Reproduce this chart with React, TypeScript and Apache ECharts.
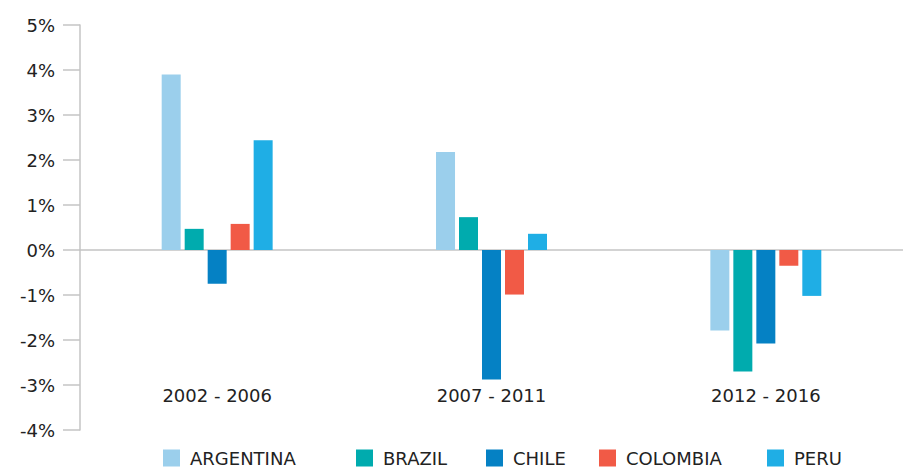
import React, { useEffect, useRef } from "react";
import * as echarts from "echarts";

const categories = ["2002 - 2006", "2007 - 2011", "2012 - 2016"];
const countries = ["ARGENTINA", "BRAZIL", "CHILE", "COLOMBIA", "PERU"];
const argentina = [3.9, 2.18, -1.79];
const brazil = [0.47, 0.73, -2.7];
const chile = [-0.75, -2.88, -2.08];
const colombia = [0.58, -0.99, -0.35];
const peru = [2.44, 0.36, -1.02];
const seriesValues = [argentina, brazil, chile, colombia, peru];
const colors = ["#9BCFEC", "#00ABAE", "#0581C4", "#F15A46", "#1FAEE5"];
const legendLeft = [163, 356, 486, 599, 767];

export default function App() {
  const ref = useRef<HTMLDivElement>(null);
  useEffect(() => {
    document.body.style.margin = "0";
    if (!ref.current) return;
    const chart = echarts.init(ref.current, null, { renderer: "svg" });
    const font = "DejaVu Sans";
    chart.setOption({
      animation: false,
      textStyle: { fontFamily: font },
      grid: {
        left: 80,
        right: 0,
        top: 25,
        bottom: 37,
        containLabel: false,
        outerBoundsMode: "none",
      },
      legend: countries.map((c, i) => ({
        data: [c],
        left: legendLeft[i],
        top: 449,
        itemWidth: 17,
        itemHeight: 17,
        icon: "rect",
        padding: 0,
        textStyle: {
          fontFamily: font,
          fontSize: 18,
          color: "#222",
          padding: [0, 0, 0, 5],
        },
      })),
      xAxis: [
        {
          type: "category",
          data: categories,
          axisLine: { onZero: true, lineStyle: { color: "#c4c4c4", width: 1.5 } },
          axisTick: { show: false },
          axisLabel: { show: false },
          splitLine: { show: false },
        },
        {
          type: "category",
          data: categories,
          position: "bottom",
          offset: -52,
          axisLine: { show: false, onZero: false },
          axisTick: { show: false },
          axisLabel: { margin: 8, fontSize: 18, color: "#222", fontFamily: font },
          splitLine: { show: false },
        },
      ],
      yAxis: {
        type: "value",
        min: -4,
        max: 5,
        interval: 1,
        axisLine: { show: true, lineStyle: { color: "#c4c4c4", width: 1.5 } },
        axisTick: { show: true, length: 17, lineStyle: { color: "#c4c4c4", width: 1.5 } },
        axisLabel: {
          formatter: "{value}%",
          margin: 25,
          fontSize: 18,
          color: "#222",
          fontFamily: font,
        },
        splitLine: { show: false },
      },
      series: countries.map((c, i) => ({
        name: c,
        type: "bar",
        xAxisIndex: 0,
        data: seriesValues[i],
        barWidth: 19,
        barGap: "21%",
        itemStyle: { color: colors[i] },
      })),
    });
    return () => chart.dispose();
  }, []);
  return <div ref={ref} style={{ width: 903, height: 467 }} />;
}
